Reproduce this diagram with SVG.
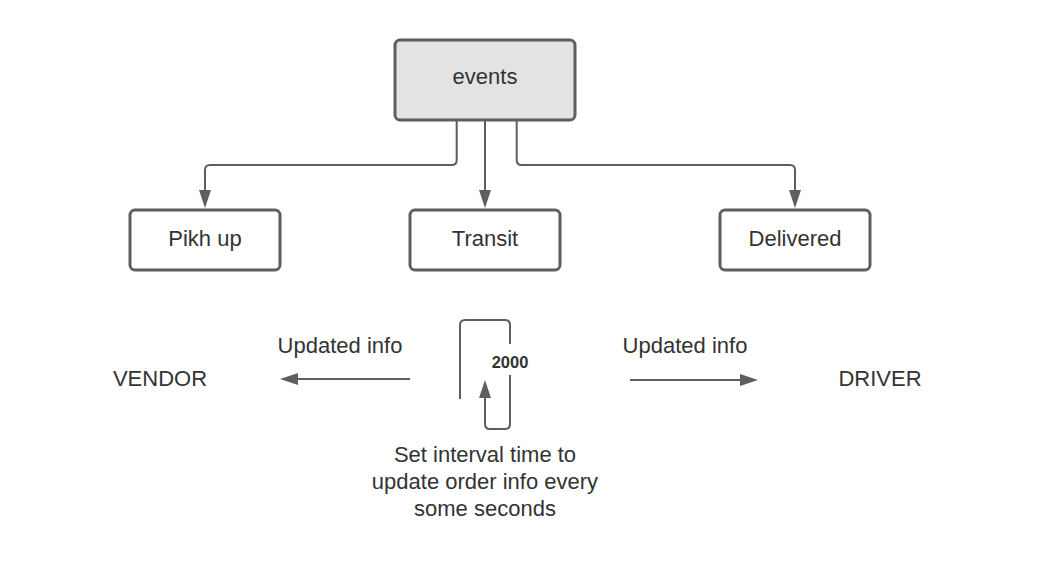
<svg xmlns="http://www.w3.org/2000/svg" width="1040" height="570" viewBox="0 0 1040 570">
<style>
.box{fill:#ffffff;stroke:#5e5e5e;stroke-width:3}
.grey{fill:#e3e3e3}
.t{font-family:"Liberation Sans",Arial,sans-serif;font-size:22px;fill:#333333;text-anchor:middle}
.b{font-weight:bold;font-size:16.5px}
.c{fill:none;stroke:#5e5e5e;stroke-width:2;marker-end:url(#ah)}
</style>
<defs>
<marker id="ah" markerUnits="userSpaceOnUse" markerWidth="20" markerHeight="14" refX="2" refY="6" orient="auto">
<path d="M0,0 L18,6 L0,12 z" fill="#5e5e5e"/>
</marker>
</defs>
<rect width="1040" height="570" fill="#ffffff"/>
<g id="connectors">
<path class="c" d="M456.7,120 V160 Q456.7,165 451.7,165 H210 Q205,165 205,170 V192"/>
<path class="c" d="M485,120 V192"/>
<path class="c" d="M516.7,120 V160 Q516.7,165 521.7,165 H790 Q795,165 795,170 V192"/>
<path class="c" d="M410,379 H296"/>
<path class="c" d="M630,380 H742"/>
<path class="c" d="M460,399 V325 Q460,320 465,320 H505 Q510,320 510,325 V424 Q510,429 505,429 H490 Q485,429 485,424 V396"/>
<rect x="488" y="344" width="44" height="31" fill="#ffffff"/>
<text class="t b" x="510" y="368">2000</text>
<text class="t" x="340" y="353">Updated info</text>
<text class="t" x="685" y="353">Updated info</text>
</g>
<g id="events">
<rect class="box grey" x="395" y="40" width="180" height="80" rx="5"/>
<text class="t" x="485" y="84">events</text>
</g>
<g id="pickup">
<rect class="box" x="130" y="210" width="150" height="60" rx="5"/>
<text class="t" x="205" y="245.5">Pikh up</text>
</g>
<g id="transit">
<rect class="box" x="410" y="210" width="150" height="60" rx="5"/>
<text class="t" x="485" y="245.5">Transit</text>
</g>
<g id="delivered">
<rect class="box" x="720" y="210" width="150" height="60" rx="5"/>
<text class="t" x="795" y="245.5">Delivered</text>
</g>
<g id="vendor">
<text class="t" x="160" y="385.5">VENDOR</text>
</g>
<g id="driver">
<text class="t" x="880" y="385.5">DRIVER</text>
</g>
<g id="note">
<text class="t" x="485" y="462">Set interval time to</text>
<text class="t" x="485" y="489">update order info every</text>
<text class="t" x="485" y="516">some seconds</text>
</g>
</svg>
